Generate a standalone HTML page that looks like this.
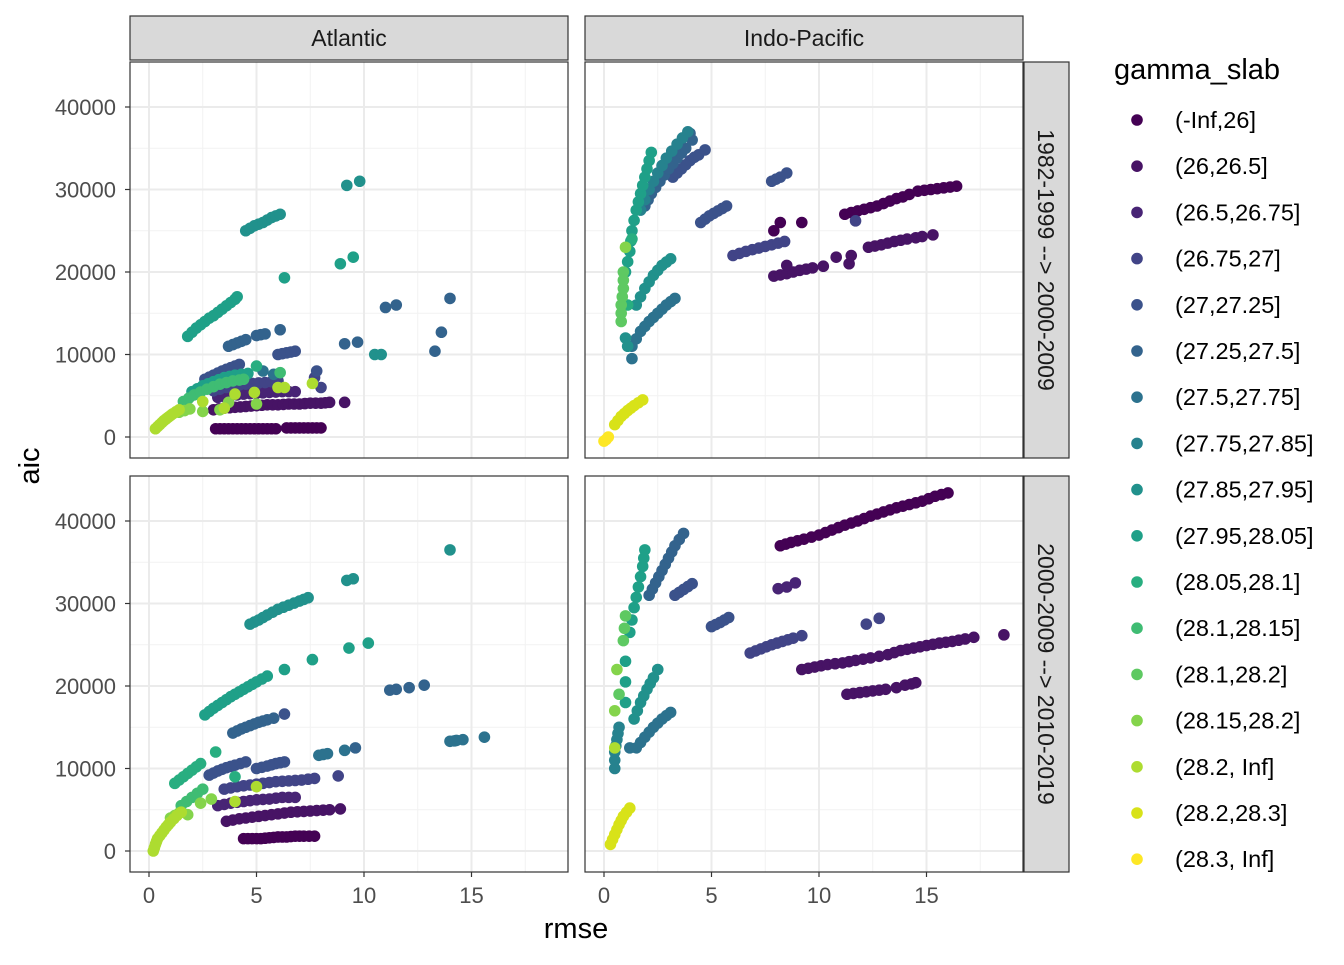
<!DOCTYPE html>
<html><head><meta charset="utf-8"><style>
body{margin:0;background:#fff;font-family:"Liberation Sans",sans-serif}
svg text{font-family:"Liberation Sans",sans-serif}
</style></head><body>
<svg id="c" width="1344" height="960" xmlns="http://www.w3.org/2000/svg"></svg>
<script>
const levels=["(-Inf,26]","(26,26.5]","(26.5,26.75]","(26.75,27]","(27,27.25]","(27.25,27.5]","(27.5,27.75]","(27.75,27.85]","(27.85,27.95]","(27.95,28.05]","(28.05,28.1]","(28.1,28.15]","(28.1,28.2]","(28.15,28.2]","(28.2, Inf]","(28.2,28.3]","(28.3, Inf]"];
const colors=["#440154","#471365","#482475","#414487","#3b528b","#33638d","#2c728e","#26828e","#21918c","#1fa088","#28ae80","#3fbc73","#5ec962","#84d44b","#addc30","#d8e219","#fde725"];
const xTicks=[0,5,10,15];
const yTicks=[0,10000,20000,30000,40000];
const yTickLabels=["0","10000","20000","30000","40000"];
const colLabels=["Atlantic","Indo-Pacific"];
const rowLabels=["1982-1999 --> 2000-2009","2000-2009 --> 2010-2019"];
// points: [level, rmse, aic]
const dataTL=[
[0,3.1,1000],[0,3.3,1000],[0,3.5,1000],[0,3.7,1000],[0,3.9,1000],[0,4.1,1000],[0,4.3,1000],[0,4.5,1000],[0,4.7,1000],[0,4.9,1000],[0,5.1,1000],[0,5.3,1000],[0,5.5,1000],[0,5.7,1000],[0,5.9,1000],[0,6.4,1100],[0,6.6,1100],[0,6.8,1100],[0,7.0,1100],[0,7.2,1100],[0,7.4,1100],[0,7.6,1100],[0,7.8,1100],[0,8.0,1100],
[1,3.0,3300],[1,3.25,3400],[1,3.5,3500],[1,3.75,3550],[1,4.0,3600],[1,4.25,3650],[1,4.5,3700],[1,4.75,3750],[1,5.0,3800],[1,5.25,3850],[1,5.5,3900],[1,5.75,3900],[1,6.0,3900],[1,6.25,3950],[1,6.5,4000],[1,6.75,4000],[1,7.0,4000],[1,7.25,4050],[1,7.5,4100],[1,7.75,4100],[1,8.0,4100],[1,8.2,4150],[1,8.4,4200],[1,9.1,4200],
[2,3.2,4800],[2,3.5,4900],[2,3.8,5000],[2,4.1,5100],[2,4.4,5200],[2,4.7,5250],[2,5.0,5300],[2,5.3,5350],[2,5.6,5400],[2,5.9,5450],[2,6.2,5500],[2,6.5,5500],[2,6.8,5500],
[3,3.0,5600],[3,3.3,5800],[3,3.6,6000],[3,3.9,6150],[3,4.2,6300],[3,4.5,6400],[3,4.8,6500],[3,5.1,6550],[3,5.4,6600],[3,5.7,6700],[3,6.0,6800],[3,7.7,7200],[3,8.0,6000],
[4,2.6,7000],[4,2.8,7250],[4,3.0,7500],[4,3.2,7750],[4,3.4,8000],[4,3.6,8200],[4,3.8,8400],[4,4.0,8600],[4,4.2,8800],[4,6.0,10000],[4,6.2,10100],[4,6.4,10200],[4,6.6,10300],[4,6.8,10400],[4,7.8,8000],
[5,3.7,11000],[5,3.9,11200],[5,4.1,11400],[5,4.3,11600],[5,4.5,11800],[5,5.0,12300],[5,5.2,12400],[5,5.4,12500],[5,6.1,13000],[5,9.1,11300],[5,9.7,11500],[5,11.0,15700],[5,11.5,16000],[5,13.3,10400],[5,13.6,12700],[5,14.0,16800],
[6,5.8,7600],[6,5.3,8000],
[8,4.5,25000],[8,4.7,25300],[8,4.9,25600],[8,5.1,25800],[8,5.3,26000],[8,5.5,26300],[8,5.7,26600],[8,5.9,26800],[8,6.1,27000],[8,9.2,30500],[8,9.8,31000],[8,10.5,10000],[8,10.8,10000],
[9,1.8,12200],[9,2.0,12700],[9,2.2,13200],[9,2.4,13600],[9,2.6,14000],[9,2.8,14400],[9,3.0,14700],[9,3.2,15100],[9,3.4,15500],[9,3.6,15900],[9,3.8,16300],[9,4.0,16700],[9,4.1,17000],[9,9.5,21800],[9,8.9,21000],[9,6.3,19300],
[9,2.0,5500],[9,2.25,5850],[9,2.5,6200],[9,2.75,6450],[9,3.0,6700],[9,3.25,6950],[9,3.5,7200],[9,3.75,7350],[9,4.0,7500],[9,4.3,7600],[9,4.6,7700],[10,5.0,8600],
[11,1.6,4300],[11,1.85,4700],[11,2.1,5100],[11,2.4,5450],[11,2.7,5800],[11,3.0,6100],[11,3.3,6400],[11,3.6,6600],[11,3.9,6800],[11,4.2,6900],[11,4.4,7000],[11,6.1,7800],
[13,1.4,3000],[13,1.65,3200],[13,1.9,3400],[13,2.5,3100],[13,3.3,3300],[13,5.0,4000],[13,3.7,4200],
[14,0.3,1000],[14,0.4,1250],[14,0.5,1500],[14,0.6,1750],[14,0.7,2000],[14,0.8,2200],[14,0.9,2400],[14,1.0,2600],[14,1.1,2800],[14,1.25,3050],[14,1.4,3300],[14,2.5,4300],[14,3.5,3500],[14,4.0,5200],[14,6.0,6000],[14,6.3,6000],[14,7.6,6500],[14,4.9,5400]
];
const dataTR=[
[0,11.2,27000],[0,11.5,27200],[0,11.8,27400],[0,12.1,27600],[0,12.4,27800],[0,12.7,28000],[0,13.0,28300],[0,13.3,28600],[0,13.6,28900],[0,13.9,29100],[0,14.2,29400],[0,14.6,29800],[0,14.9,29900],[0,15.2,30000],[0,15.5,30100],[0,15.8,30200],[0,16.1,30300],[0,16.4,30400],[0,8.2,26000],[0,9.2,26000],[0,7.9,25000],
[1,7.9,19500],[1,8.2,19650],[1,8.5,19800],[1,8.8,20000],[1,9.1,20200],[1,9.4,20350],[1,9.7,20500],[1,10.2,20700],[1,11.4,21000],[1,8.5,20800],[1,10.8,21800],[1,11.5,22000],
[1,12.3,23000],[1,12.6,23150],[1,12.9,23300],[1,13.2,23500],[1,13.5,23700],[1,13.8,23850],[1,14.1,24000],[1,14.5,24150],[1,14.8,24300],[1,15.3,24500],
[3,6.0,22000],[3,6.3,22250],[3,6.6,22500],[3,6.9,22700],[3,7.2,22900],[3,7.5,23100],[3,7.8,23300],[3,8.1,23500],[3,8.4,23700],[3,11.7,26200],
[4,7.8,31000],[4,8.0,31250],[4,8.2,31500],[4,8.5,32000],[4,4.5,26000],[4,4.7,26400],[4,4.9,26800],[4,5.1,27100],[4,5.3,27400],[4,5.5,27700],[4,5.7,28000],
[4,3.2,31500],[4,3.4,32000],[4,3.6,32500],[4,3.8,33000],[4,4.0,33500],[4,4.2,33900],[4,4.4,34200],[4,4.7,34800],
[5,1.9,28000],[5,2.05,28750],[5,2.2,29500],[5,2.4,30250],[5,2.6,31000],[5,2.8,31750],[5,3.0,32500],[5,3.2,33150],[5,3.4,33800],[5,3.6,34400],[5,3.8,35000],[5,4.1,36000],[5,4.0,36800],
[6,1.3,9500],[6,1.3,11000],[6,1.5,11900],[6,1.7,12800],[6,1.9,13400],[6,2.1,14000],[6,2.3,14500],[6,2.5,15000],[6,2.7,15500],[6,2.9,16000],[6,3.1,16400],[6,3.3,16800],
[7,1.7,27500],[7,1.9,28750],[7,2.1,30000],[7,2.3,31000],[7,2.5,32000],[7,2.7,32900],[7,2.9,33800],[7,3.15,34650],[7,3.4,35500],[7,3.65,36250],[7,3.9,37000],
[8,1.5,16000],[8,1.7,17000],[8,1.9,18000],[8,2.1,18800],[8,2.3,19600],[8,2.5,20200],[8,2.7,20800],[8,2.9,21200],[8,3.1,21600],[8,1.0,12000],[8,1.1,11000],
[9,1.0,20000],[9,1.1,21250],[9,1.2,22500],[9,1.25,23750],[9,1.3,25000],[9,1.4,26250],[9,1.5,27500],[9,1.6,28500],[9,1.7,29500],[9,1.8,30500],[9,1.9,31500],[9,2.0,32500],[9,2.1,33500],[9,2.2,34500],
[10,1.1,16000],[10,1.3,24000],
[12,0.8,14000],[12,0.8,15000],[12,0.8,16000],[12,0.85,17000],[12,0.9,18000],[12,0.9,19000],[12,0.9,20000],[13,1.0,23000],
[15,0.5,1500],[15,0.65,2000],[15,0.8,2500],[15,0.95,2850],[15,1.1,3200],[15,1.25,3500],[15,1.4,3800],[15,1.6,4150],[15,1.8,4500],
[16,0.0,-500],[16,0.1,-300],[16,0.2,0]
];
const dataBL=[
[0,4.4,1500],[0,4.6,1500],[0,4.8,1500],[0,5.0,1500],[0,5.2,1500],[0,5.4,1550],[0,5.6,1600],[0,5.8,1650],[0,6.0,1700],[0,6.2,1700],[0,6.4,1700],[0,6.6,1750],[0,6.8,1800],[0,7.0,1800],[0,7.2,1800],[0,7.45,1800],[0,7.7,1800],
[1,3.6,3600],[1,3.9,3750],[1,4.2,3900],[1,4.5,4000],[1,4.8,4100],[1,5.1,4200],[1,5.4,4300],[1,5.7,4400],[1,6.0,4500],[1,6.3,4600],[1,6.6,4700],[1,6.9,4750],[1,7.2,4800],[1,7.5,4850],[1,7.8,4900],[1,8.1,4950],[1,8.4,5000],[1,8.9,5100],
[2,3.2,5500],[2,3.5,5650],[2,3.8,5800],[2,4.1,5900],[2,4.4,6000],[2,4.7,6100],[2,5.0,6200],[2,5.3,6250],[2,5.6,6300],[2,5.9,6400],[2,6.2,6500],[2,6.5,6500],[2,6.8,6500],
[3,3.5,7500],[3,3.8,7650],[3,4.1,7800],[3,4.4,7900],[3,4.7,8000],[3,5.0,8100],[3,5.3,8200],[3,5.6,8300],[3,5.9,8400],[3,6.2,8450],[3,6.5,8500],[3,6.8,8550],[3,7.1,8600],[3,7.4,8700],[3,7.7,8800],[3,8.8,9100],
[4,2.8,9200],[4,3.0,9450],[4,3.2,9700],[4,3.4,9900],[4,3.6,10100],[4,3.8,10250],[4,4.0,10400],[4,4.25,10600],[4,4.5,10800],[4,5.0,10000],[4,5.25,10150],[4,5.5,10300],[4,5.7,10450],[4,5.9,10600],[4,6.1,10700],[4,6.3,10800],[4,6.3,16600],
[5,3.9,14300],[5,4.1,14550],[5,4.3,14800],[5,4.5,15000],[5,4.7,15200],[5,4.9,15400],[5,5.1,15600],[5,5.3,15750],[5,5.5,15900],[5,5.8,16100],[5,9.6,12500],[5,11.2,19500],[5,11.5,19600],[5,12.1,19800],[5,12.8,20100],
[6,7.9,11600],[6,8.1,11700],[6,8.3,11800],[6,9.1,12200],[6,14.0,13300],[6,14.2,13350],[6,14.3,13400],[6,14.6,13500],[6,15.6,13800],
[8,14.0,36500],[8,9.2,32800],[8,9.5,33000],[8,4.7,27500],[8,4.9,27750],[8,5.1,28000],[8,5.3,28300],[8,5.5,28600],[8,5.75,28950],[8,6.0,29300],[8,6.25,29550],[8,6.5,29800],[8,6.75,30050],[8,7.0,30300],[8,7.2,30500],[8,7.4,30700],
[9,2.6,16500],[9,2.8,16900],[9,3.0,17300],[9,3.2,17650],[9,3.4,18000],[9,3.6,18350],[9,3.8,18700],[9,4.0,19000],[9,4.2,19300],[9,4.4,19600],[9,4.6,19900],[9,4.8,20200],[9,5.0,20500],[9,5.25,20850],[9,5.5,21200],[9,6.3,22000],[9,7.6,23200],[9,9.3,24600],[9,10.2,25200],
[10,1.2,8200],[10,1.4,8600],[10,1.6,9000],[10,1.8,9400],[10,2.0,9800],[10,2.2,10200],[10,2.4,10600],[10,3.1,12000],[10,4.0,9000],
[11,1.5,5500],[11,1.75,6000],[11,2.0,6500],[11,2.25,7000],[11,2.5,7500],
[13,1.0,4000],[13,1.2,4300],[13,1.4,4600],[13,1.8,4400],[13,2.4,5800],[13,2.9,6300],
[14,0.2,0],[14,0.25,400],[14,0.3,800],[14,0.35,1150],[14,0.4,1500],[14,0.5,1850],[14,0.6,2200],[14,0.7,2550],[14,0.8,2900],[14,0.9,3200],[14,1.0,3500],[14,1.15,3900],[14,1.3,4300],[14,1.5,4700],[14,4.0,6000],[14,5.0,7800]
];
const dataBR=[
[0,8.2,37000],[0,8.45,37200],[0,8.7,37400],[0,9.0,37600],[0,9.3,37800],[0,9.65,38050],[0,10.0,38300],[0,10.3,38600],[0,10.6,38900],[0,10.9,39200],[0,11.2,39500],[0,11.5,39750],[0,11.8,40000],[0,12.1,40300],[0,12.4,40600],[0,12.7,40850],[0,13.0,41100],[0,13.3,41350],[0,13.6,41600],[0,13.9,41800],[0,14.2,42000],[0,14.5,42200],[0,14.8,42400],[0,15.1,42700],[0,15.4,43000],[0,15.7,43200],[0,16.0,43400],
[1,9.2,22000],[1,9.5,22150],[1,9.8,22300],[1,10.1,22450],[1,10.4,22600],[1,10.75,22700],[1,11.1,22800],[1,11.4,22950],[1,11.7,23100],[1,12.05,23250],[1,12.4,23400],[1,12.8,23600],[1,13.2,23800],[1,13.5,24050],[1,13.8,24300],[1,14.1,24450],[1,14.4,24600],[1,14.7,24750],[1,15.0,24900],[1,15.3,25050],[1,15.6,25200],[1,15.9,25300],[1,16.2,25400],[1,16.5,25550],[1,16.8,25700],[1,17.2,25900],[1,18.6,26200],
[1,11.3,19000],[1,11.6,19100],[1,11.9,19200],[1,12.2,19300],[1,12.5,19400],[1,12.8,19500],[1,13.1,19600],[1,13.6,19800],[1,14.0,20100],[1,14.3,20250],[1,14.5,20400],
[2,8.1,31800],[2,8.5,32000],[2,8.9,32500],
[3,6.8,24000],[3,7.05,24250],[3,7.3,24500],[3,7.55,24750],[3,7.8,25000],[3,8.05,25200],[3,8.3,25400],[3,8.55,25600],[3,8.8,25800],[3,9.2,26100],[3,12.2,27500],[3,12.8,28200],
[4,5.0,27200],[4,5.2,27450],[4,5.4,27700],[4,5.6,28000],[4,5.8,28300],[4,3.3,31000],[4,3.5,31350],[4,3.7,31700],[4,3.9,32050],[4,4.1,32400],
[5,2.1,31000],[5,2.25,31750],[5,2.4,32500],[5,2.55,33250],[5,2.7,34000],[5,2.85,34750],[5,3.0,35500],[5,3.15,36250],[5,3.3,37000],[5,3.5,37750],[5,3.7,38500],
[6,1.5,12500],[6,1.7,13150],[6,1.9,13800],[6,2.1,14400],[6,2.3,15000],[6,2.5,15500],[6,2.7,16000],[6,2.9,16400],[6,3.1,16800],[6,1.2,12500],
[7,0.5,10000],[7,0.5,11000],[7,0.5,12000],[7,0.55,12750],[7,0.6,13500],[7,0.65,14250],[7,0.7,15000],
[8,1.4,16000],[8,1.55,17000],[8,1.7,18000],[8,1.85,18800],[8,2.0,19600],[8,2.15,20300],[8,2.3,21000],[8,2.5,22000],
[9,1.2,26500],[9,1.3,28000],[9,1.4,29500],[9,1.5,30750],[9,1.6,32000],[9,1.7,33250],[9,1.8,34500],[9,1.85,35500],[9,1.9,36500],[9,1.0,18000],[9,1.0,20500],[9,1.0,23000],
[12,1.0,28500],[12,0.95,27000],[12,0.9,25500],[12,0.7,19000],[13,0.5,17000],[13,0.6,22000],
[14,0.5,12500],[15,0.3,800],[15,0.4,1400],[15,0.5,2000],[15,0.6,2600],[15,0.7,3200],[15,0.8,3700],[15,0.9,4200],[15,1.05,4700],[15,1.2,5200]
];
const panels=[{x0:130,y0:62,d:dataTL,n:"atlantic-early"},{x0:585,y0:62,d:dataTR,n:"indo-pacific-early"},{x0:130,y0:476,d:dataBL,n:"atlantic-late"},{x0:585,y0:476,d:dataBR,n:"indo-pacific-late"}];
const PW=438,PH=396;
const NS="http://www.w3.org/2000/svg",svg=document.getElementById('c');
function mk(t,a,p){const e=document.createElementNS(NS,t);for(const k in a)e.setAttribute(k,a[k]);(p||svg).appendChild(e);return e;}
const xs=(p,v)=>p.x0+19+v*21.5;
const ys=(p,v)=>p.y0+375-v*0.00825;
panels.forEach((p,pi)=>{
  const g=mk('g',{});
  
  
  mk('rect',{x:p.x0,y:p.y0,width:PW,height:PH,fill:'#fff'},g);
  [2.5,7.5,12.5,17.5].forEach(v=>{const l=mk('line',{x1:xs(p,v),x2:xs(p,v),y1:p.y0,y2:p.y0+PH,stroke:'#f2f2f2','stroke-width':1},g);});
  [5000,15000,25000,35000].forEach(v=>{const l=mk('line',{x1:p.x0,x2:p.x0+PW,y1:ys(p,v),y2:ys(p,v),stroke:'#f2f2f2','stroke-width':1},g);});
  xTicks.forEach(v=>{const l=mk('line',{x1:xs(p,v),x2:xs(p,v),y1:p.y0,y2:p.y0+PH,stroke:'#ebebeb','stroke-width':2},g);});
  yTicks.forEach(v=>{const l=mk('line',{x1:p.x0,x2:p.x0+PW,y1:ys(p,v),y2:ys(p,v),stroke:'#ebebeb','stroke-width':2},g);});
  p.d.forEach(d=>{const c=mk('circle',{cx:xs(p,d[1]),cy:ys(p,d[2]),r:5.8,fill:colors[d[0]]},g);});
  mk('rect',{x:p.x0,y:p.y0,width:PW,height:PH,fill:'none',stroke:'#333','stroke-width':1.2},g);
  if(pi%2==0){yTicks.forEach((v,i)=>{mk('line',{x1:p.x0-5,x2:p.x0,y1:ys(p,v),y2:ys(p,v),stroke:'#333','stroke-width':1.2});const t=mk('text',{x:p.x0-14,y:ys(p,v)+8,'text-anchor':'end','font-size':22,fill:'#4d4d4d'});t.textContent=yTickLabels[i];});}
  if(pi>=2){xTicks.forEach(v=>{mk('line',{x1:xs(p,v),x2:xs(p,v),y1:p.y0+PH,y2:p.y0+PH+5,stroke:'#333','stroke-width':1.2});const t=mk('text',{x:xs(p,v),y:p.y0+PH+31,'text-anchor':'middle','font-size':22,fill:'#4d4d4d'});t.textContent=v;});}
});
colLabels.forEach((s,i)=>{const x=130+i*455;mk('rect',{x:x,y:16,width:PW,height:44,fill:'#d9d9d9',stroke:'#333','stroke-width':1.2});const t=mk('text',{x:x+PW/2,y:46,'text-anchor':'middle','font-size':23,fill:'#1a1a1a'});t.textContent=s;});
rowLabels.forEach((s,i)=>{const y=62+i*414;mk('rect',{x:1024,y:y,width:45,height:PH,fill:'#d9d9d9',stroke:'#333','stroke-width':1.2});const t=mk('text',{x:0,y:0,'text-anchor':'middle','font-size':23,fill:'#1a1a1a',transform:`translate(1038,${y+PH/2}) rotate(90)`});t.textContent=s;});
let t=mk('text',{x:576,y:938,'text-anchor':'middle','font-size':29,fill:'#000'});t.textContent='rmse';
t=mk('text',{x:0,y:0,'text-anchor':'middle','font-size':29,fill:'#000',transform:'translate(39,466) rotate(-90)'});t.textContent='aic';
t=mk('text',{x:1114,y:79,'font-size':29,fill:'#000'});t.textContent='gamma_slab';
levels.forEach((s,i)=>{const y=120+i*46.2;const g=mk('g',{});mk('circle',{cx:1137,cy:y,r:5.8,fill:colors[i]},g);const tt=mk('text',{x:1175,y:y+8,'font-size':23.5,fill:'#000'},g);tt.textContent=s;});
</script>
</body></html>
